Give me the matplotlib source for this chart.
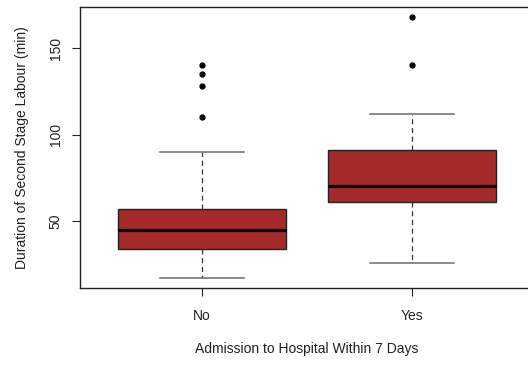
import matplotlib
matplotlib.use("Agg")
import matplotlib.pyplot as plt

plt.rcParams['font.family'] = ['Liberation Sans', 'DejaVu Sans']

groups = ["No", "Yes"]
q1 = [34, 61]
med = [45, 70]
q3 = [57, 91]
whislo = [17, 26]
whishi = [90, 112]
outliers = [[110, 128, 135, 140], [140, 168]]

stats = []
for i in range(len(groups)):
    stats.append(dict(label=groups[i], q1=q1[i], med=med[i], q3=q3[i],
                      whislo=whislo[i], whishi=whishi[i], fliers=outliers[i]))

fig = plt.figure(figsize=(5.28, 3.65), dpi=100)
# right edge of the frame falls just outside the image, as in the reference
ax = fig.add_axes([80/528, 1 - 288/365, (534 - 80)/528, (288 - 7)/365])

ax.bxp(stats, positions=[1, 2], widths=0.8, patch_artist=True,
       boxprops=dict(facecolor='#A52A2A', edgecolor='#222222', linewidth=1),
       medianprops=dict(color='black', linewidth=2.3),
       whiskerprops=dict(color='#333333', linewidth=0.9, linestyle=(0, (4, 3))),
       capprops=dict(color='#777777', linewidth=1.2),
       capwidths=0.4,
       flierprops=dict(marker='o', markerfacecolor='black', markeredgecolor='black',
                       markersize=3.5, linestyle='none'))

ax.set_xlim(0.42, 2.58)
ax.set_ylim(11.3, 173.7)
ax.set_yticks([50, 100, 150])
ax.set_yticklabels(["50", "100", "150"], rotation=90, va='center')
ax.tick_params(axis='both', length=6, width=0.8, labelsize=10, colors='#222222')
ax.tick_params(axis='x', pad=9)
ax.tick_params(axis='y', pad=6.5)
for s in ax.spines.values():
    s.set_color('#222222')
    s.set_linewidth(1)

ax.set_xlabel("Admission to Hospital Within 7 Days", fontsize=10, color='#222222', labelpad=14)
ax.set_ylabel("Duration of Second Stage Labour (min)", fontsize=10, color='#222222', labelpad=14)

fig.savefig("out.png", dpi=100)
